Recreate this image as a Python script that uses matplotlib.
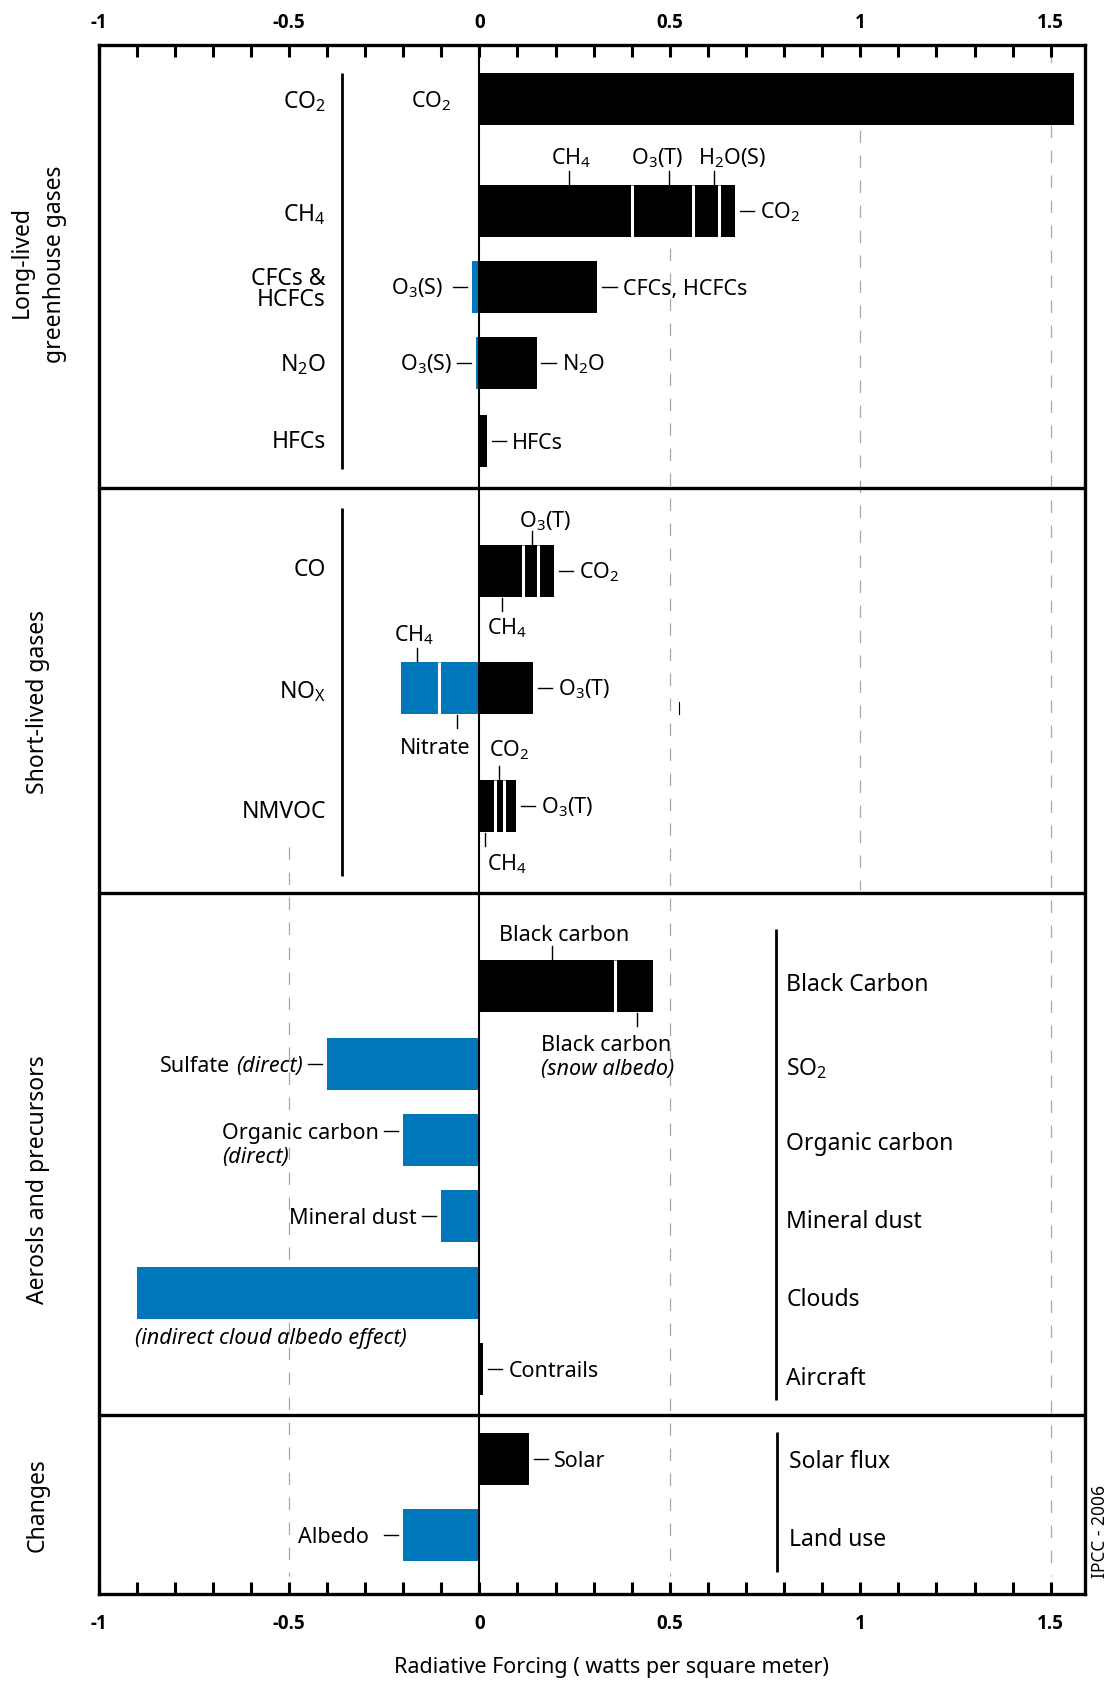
import matplotlib.pyplot as plt
import numpy as np

plt.rcParams['font.family'] = ['Noto Sans', 'DejaVu Sans']
plt.rcParams['mathtext.fontset'] = 'custom'
plt.rcParams['mathtext.rm'] = 'Noto Sans'
plt.rcParams['mathtext.it'] = 'Noto Sans:italic'
plt.rcParams['axes.unicode_minus'] = False

W, H = 1113, 1682
BLUE = '#0077bb'

# radiative forcing by emitted compound (W/m2), segments listed outward from zero
co2_parts = [1.56]
ch4_parts = [0.40, 0.16, 0.07, 0.04]      # CH4, O3(T), H2O(S), CO2
cfc_parts = [0.31]
cfc_cooling = [-0.02]                      # O3(S)
n2o_parts = [0.15]
n2o_cooling = [-0.01]                      # O3(S)
hfc_parts = [0.02]
co_parts = [0.115, 0.04, 0.04]             # CH4, O3(T), CO2
nox_parts = [0.14]                         # O3(T)
nox_cooling = [-0.105, -0.10]              # Nitrate, CH4
nmvoc_parts = [0.04, 0.025, 0.03]          # CH4, CO2, O3(T)
bc_parts = [0.355, 0.10]                   # black carbon, snow albedo
sulfate_cooling = [-0.40]
oc_cooling = [-0.20]
dust_cooling = [-0.10]
cloud_cooling = [-0.90]
contrail_parts = [0.01]
solar_parts = [0.13]
albedo_cooling = [-0.20]

x_ticks = [-1, -0.5, 0, 0.5, 1, 1.5]
x_ticklabels = ['-1', '-0.5', '0', '0.5', '1', '1.5']

# row centres, in pixels from the top of the figure
Y = dict(co2=99, ch4=211, cfc=287, n2o=363, hfc=441, co=571, nox=688, nmvoc=806,
         bc=986, so2=1064, oc=1140, dust=1216, clouds=1293, aircraft=1369,
         solar=1459, land=1535)
BAR_H = 52
TOP, BOT = 45, 1594

fig = plt.figure(figsize=(W / 100, H / 100), dpi=100)
ax = fig.add_axes([98.5 / W, 1 - BOT / H, (1085 - 98.5) / W, (BOT - TOP) / H])
ax.set_xlim(-1, 1.59)
ax.set_ylim(BOT, TOP)


def stack(y, parts, color):
    left = 0.0
    edges = []
    for w in parts:
        ax.barh(y, w, left=left, height=BAR_H, color=color, lw=0, zorder=3)
        left += w
        edges.append(left)
    for e in edges[:-1]:
        ax.plot([e, e], [y - BAR_H / 2, y + BAR_H / 2], color='white', lw=2.2,
                solid_capstyle='butt', zorder=4)
    return edges


def label(x, y, s, size=15.5, ha='left', **kw):
    # y is the visual centre of the capitals
    return ax.text(x, y + 0.357 * size * 100 / 72, s, fontsize=size, ha=ha,
                   va='baseline', zorder=6, **kw)


def leader(xs, ys):
    ax.plot(xs, ys, color='black', lw=1.0, zorder=4)


def right_note(y, end, s):
    leader([end + 0.013, end + 0.05], [y, y])
    return label(end + 0.066, y, s)


def left_note(y, end, s, text_gap=0.064, **kw):
    leader([end - 0.013, end - 0.05], [y, y])
    return label(end - text_gap, y, s, ha='right', **kw)


def above(y, tx, s, x, ha='center', dy=28):
    top = y - BAR_H / 2
    leader([tx, tx], [top - 14, top - 1])
    label(x, top - dy, s, ha=ha)


def below(y, tx, s, x, ha='center', dy=30):
    bot = y - BAR_H / 2 + BAR_H
    leader([tx, tx], [bot + 1, bot + 14])
    label(x, bot + dy, s, ha=ha)


def left_edge(t):
    bb = t.get_window_extent(renderer=fig.canvas.get_renderer())
    return ax.transData.inverted().transform((bb.x0, bb.y0))[0]


# dashed reference lines
grey = '#a8a8a8'
for gx, y0, y1 in [(-0.5, 847, 1576), (0.5, 248, 1576), (1.0, 130, 890), (1.5, 50, 1576)]:
    ax.plot([gx, gx], [y0, y1], color=grey, lw=0.9, ls=(0, (10, 10)), zorder=1)

# long-lived greenhouse gases
e = stack(Y['co2'], co2_parts, 'black')
label(-0.072, Y['co2'] + 1, r'CO$_2$', ha='right')

e = stack(Y['ch4'], ch4_parts, 'black')
above(Y['ch4'], 0.234, r'CH$_4$', 0.240)
above(Y['ch4'], 0.499, r'O$_3$(T)', 0.466)
above(Y['ch4'], 0.615, r'H$_2$O(S)', 0.663)
right_note(Y['ch4'], e[-1], r'CO$_2$')

e = stack(Y['cfc'], cfc_parts, 'black')
right_note(Y['cfc'], e[-1], 'CFCs, HCFCs')
e = stack(Y['cfc'], cfc_cooling, BLUE)
left_note(Y['cfc'], e[-1], r'O$_3$(S)', text_gap=0.075)

e = stack(Y['n2o'], n2o_parts, 'black')
right_note(Y['n2o'], e[-1], r'N$_2$O')
e = stack(Y['n2o'], n2o_cooling, BLUE)
left_note(Y['n2o'], e[-1], r'O$_3$(S)', text_gap=0.062)

e = stack(Y['hfc'], hfc_parts, 'black')
right_note(Y['hfc'], e[-1], 'HFCs')

# short-lived gases
e = stack(Y['co'], co_parts, 'black')
above(Y['co'], 0.137, r'O$_3$(T)', 0.104, ha='left', dy=25)
below(Y['co'], 0.059, r'CH$_4$', 0.02, ha='left')
right_note(Y['co'], e[-1], r'CO$_2$')

e = stack(Y['nox'], nox_parts, 'black')
right_note(Y['nox'], e[-1], r'O$_3$(T)')
e = stack(Y['nox'], nox_cooling, BLUE)
above(Y['nox'], -0.164, r'CH$_4$', -0.171)
below(Y['nox'], -0.059, 'Nitrate', -0.117, dy=32)
ax.plot([0.524, 0.524], [702, 714], color='black', lw=0.8)

e = stack(Y['nmvoc'], nmvoc_parts, 'black')
above(Y['nmvoc'], 0.051, r'CO$_2$', 0.025, ha='left', dy=31)
below(Y['nmvoc'], 0.014, r'CH$_4$', 0.02, ha='left', dy=31)
right_note(Y['nmvoc'], e[-1], r'O$_3$(T)')

# aerosols and precursors
e = stack(Y['bc'], bc_parts, 'black')
above(Y['bc'], 0.190, 'Black carbon', 0.051, ha='left', dy=27)
bot = Y['bc'] + BAR_H / 2
leader([0.415, 0.415], [bot + 1, bot + 14])
label(0.161, 1043, 'Black carbon')
label(0.161, 1067, '(snow albedo)', style='italic')

e = stack(Y['so2'], sulfate_cooling, BLUE)
t = left_note(Y['so2'], e[-1], '(direct)', style='italic')
ax.annotate('Sulfate', xy=(0, 0), xycoords=t, xytext=(-4, 0), textcoords='offset points',
            ha='right', va='bottom', fontsize=15.5)

e = stack(Y['oc'], oc_cooling, BLUE)
t = left_note(Y['oc'] - 9, e[-1], 'Organic carbon')
label(left_edge(t), Y['oc'] + 15, '(direct)', style='italic')

e = stack(Y['dust'], dust_cooling, BLUE)
left_note(Y['dust'], e[-1], 'Mineral dust')

e = stack(Y['clouds'], cloud_cooling, BLUE)
label(-0.904, 1336, '(indirect cloud albedo effect)', style='italic')

e = stack(Y['aircraft'], contrail_parts, 'black')
right_note(Y['aircraft'], e[-1], 'Contrails')

# changes
e = stack(Y['solar'], solar_parts, 'black')
right_note(Y['solar'], e[-1], 'Solar')
e = stack(Y['land'], albedo_cooling, BLUE)
left_note(Y['land'], e[-1], 'Albedo', text_gap=0.09)

# category labels and their brackets
cat = 16.5
for s, y in [(r'CO$_2$', 100), (r'CH$_4$', 213), ('CFCs &', 277), ('HCFCs', 298),
             (r'N$_2$O', 363), ('HFCs', 440), ('CO', 568), (r'NO$_\mathregular{X}$', 690),
             ('NMVOC', 810)]:
    label(-0.403, y, s, size=cat, ha='right')
for s, y in [('Black Carbon', 983), (r'SO$_2$', 1067), ('Organic carbon', 1142),
             ('Mineral dust', 1220), ('Clouds', 1298), ('Aircraft', 1377)]:
    label(0.806, y, s, size=cat)
for s, y in [('Solar flux', 1460), ('Land use', 1538)]:
    label(0.814, y, s, size=cat)

for bx, y0, y1 in [(-0.361, 73, 469), (-0.361, 508, 876), (0.778, 929, 1400), (0.782, 1432, 1572)]:
    ax.plot([bx, bx], [y0, y1], color='black', lw=2.0, solid_capstyle='butt', zorder=4)

# panel dividers and zero line
for y in (488, 893, 1415):
    ax.axhline(y, color='black', lw=2.4, zorder=5)
ax.axvline(0, color='black', lw=1.5, zorder=5)

# axes and ticks, with the scale numbers written above and below the frame
for sp in ax.spines.values():
    sp.set_linewidth(2.4)
ax.set_yticks([])
ax.set_xticks(x_ticks)
ax.set_xticks(np.round(np.arange(-0.9, 1.55, 0.1), 1), minor=True)
ax.tick_params(axis='x', which='both', direction='in', length=8.6, width=2.2,
               top=True, bottom=True, labelbottom=False, labeltop=False)
for v, s in zip(x_ticks, x_ticklabels):
    for yy in (21.5, 1622):
        t = label(v, yy, s, size=13.5, ha='center', fontweight='bold',
                  family=['Open Sans', 'Noto Sans', 'DejaVu Sans'])
        t.set_clip_on(False)

# panel titles
fig.text(21.7 / W, 1 - 262 / H, 'Long-lived', rotation=90, ha='center', va='center', fontsize=cat)
fig.text(55 / W, 1 - 264 / H, 'greenhouse gases', rotation=90, ha='center', va='center', fontsize=cat)
fig.text(38 / W, 1 - 702 / H, 'Short-lived gases', rotation=90, ha='center', va='center', fontsize=cat)
fig.text(38 / W, 1 - 1180 / H, 'Aerosls and precursors', rotation=90, ha='center', va='center', fontsize=cat)
fig.text(38 / W, 1 - 1505 / H, 'Changes', rotation=90, ha='center', va='center', fontsize=cat)

fig.text(611 / W, 1 - 1668 / H, 'Radiative Forcing ( watts per square meter)',
         ha='center', va='center', fontsize=15.5)
fig.text(1100 / W, 1 - 1532 / H, 'IPCC - 2006', rotation=90, ha='center', va='center', fontsize=12.5)

fig.savefig('out.png', dpi=100, facecolor='white')
